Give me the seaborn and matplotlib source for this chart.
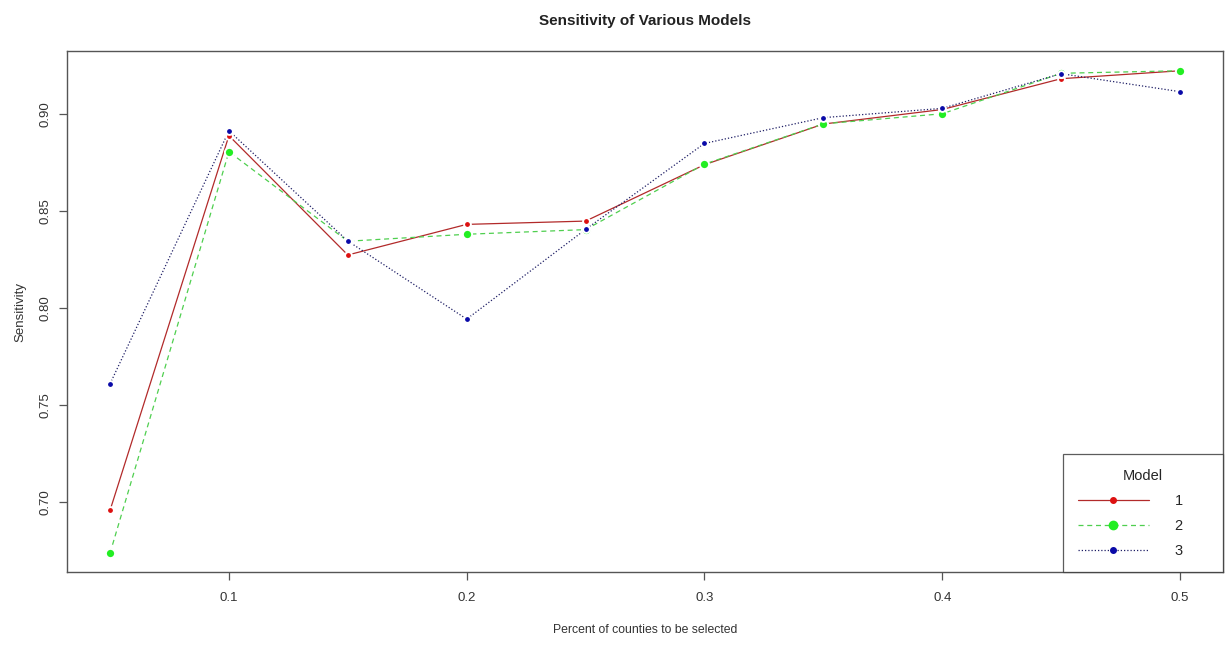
import matplotlib
matplotlib.use("Agg")
import matplotlib.pyplot as plt
from matplotlib.lines import Line2D
import seaborn as sns
import pandas as pd

# ---- data ----
pct = [0.05, 0.10, 0.15, 0.20, 0.25, 0.30, 0.35, 0.40, 0.45, 0.50]
model1 = [0.6956, 0.8890, 0.8274, 0.8432, 0.8449, 0.8740, 0.8950, 0.9025, 0.9184, 0.9225]
model2 = [0.6735, 0.8807, 0.8345, 0.8381, 0.8405, 0.8743, 0.8951, 0.9003, 0.9212, 0.9225]
model3 = [0.7609, 0.8915, 0.8346, 0.7943, 0.8406, 0.8850, 0.8983, 0.9031, 0.9210, 0.9117]
model_names = ["1", "2", "3"]
x_ticks = [0.1, 0.2, 0.3, 0.4, 0.5]
y_ticks = [0.70, 0.75, 0.80, 0.85, 0.90]

df = pd.DataFrame({
    "pct": pct * 3,
    "sens": model1 + model2 + model3,
    "Model": [m for m in model_names for _ in pct],
})

line_colors = {"1": "#b22a2a", "2": "#4fcf4f", "3": "#1f1f66"}
point_colors = {"1": "#dd1111", "2": "#22ee22", "3": "#0a0aa8"}
point_sizes = {"1": 24, "2": 44, "3": 24}
dash_styles = {"1": "", "2": (4, 3), "3": (1, 1.6)}

sns.set_style("white")
plt.rcParams["font.family"] = ["Liberation Sans", "DejaVu Sans"]

fig = plt.figure(figsize=(12.25, 6.49), dpi=100)
ax = fig.add_axes([0.0549, 0.1182, 0.9433, 0.8032])

sns.lineplot(data=df, x="pct", y="sens", hue="Model", style="Model",
             palette=line_colors, dashes=dash_styles, linewidth=0.9,
             legend=False, ax=ax, estimator=None, sort=False)
for m in model_names:
    sub = df[df["Model"] == m]
    sns.scatterplot(data=sub, x="pct", y="sens", color=point_colors[m],
                    s=point_sizes[m], edgecolor="white", linewidth=1.4,
                    legend=False, ax=ax, zorder=3)

ax.set_xlim(0.032, 0.518)
ax.set_ylim(0.6636, 0.9327)
ax.set_xticks(x_ticks)
ax.set_xticklabels([f"{v:g}" for v in x_ticks])
ax.set_yticks(y_ticks)
ax.set_yticklabels([f"{v:.2f}" for v in y_ticks], rotation=90, va="center")

for sp in ax.spines.values():
    sp.set_color("#555555")
    sp.set_linewidth(1.0)
ax.tick_params(axis="both", direction="out", length=6, width=0.9,
               color="#555555", labelsize=9.5, labelcolor="#333333",
               bottom=True, left=True)
ax.tick_params(axis="x", pad=8.5)
ax.tick_params(axis="y", pad=5.5)

ax.set_xlabel("Percent of counties to be selected", fontsize=8.8,
              color="#333333", labelpad=14)
ax.set_ylabel("Sensitivity", fontsize=9.5, color="#333333", labelpad=9)
ax.set_title("Sensitivity of Various Models", fontsize=11, fontweight="bold",
             color="#222222", pad=19)

handles = []
for m in model_names:
    ls = "-" if m == "1" else ((0, (4, 3)) if m == "2" else (0, (1, 1.6)))
    handles.append(Line2D([0], [0], color=line_colors[m], linestyle=ls,
                          linewidth=0.9, marker="o", markerfacecolor=point_colors[m],
                          markeredgecolor=point_colors[m],
                          markersize=6 if m == "2" else 4))
labels = [m + "      " for m in model_names]
leg = ax.legend(handles, labels, title="Model", loc="lower right",
                borderaxespad=0, frameon=True, fancybox=False,
                fontsize=10.5, title_fontsize=10.5, handlelength=4.9,
                handletextpad=1.8, labelspacing=0.75, borderpad=1.0,
                numpoints=1)
leg.get_frame().set_edgecolor("#333333")
leg.get_frame().set_linewidth(0.9)

fig.savefig("out.png", dpi=100, facecolor="white")
